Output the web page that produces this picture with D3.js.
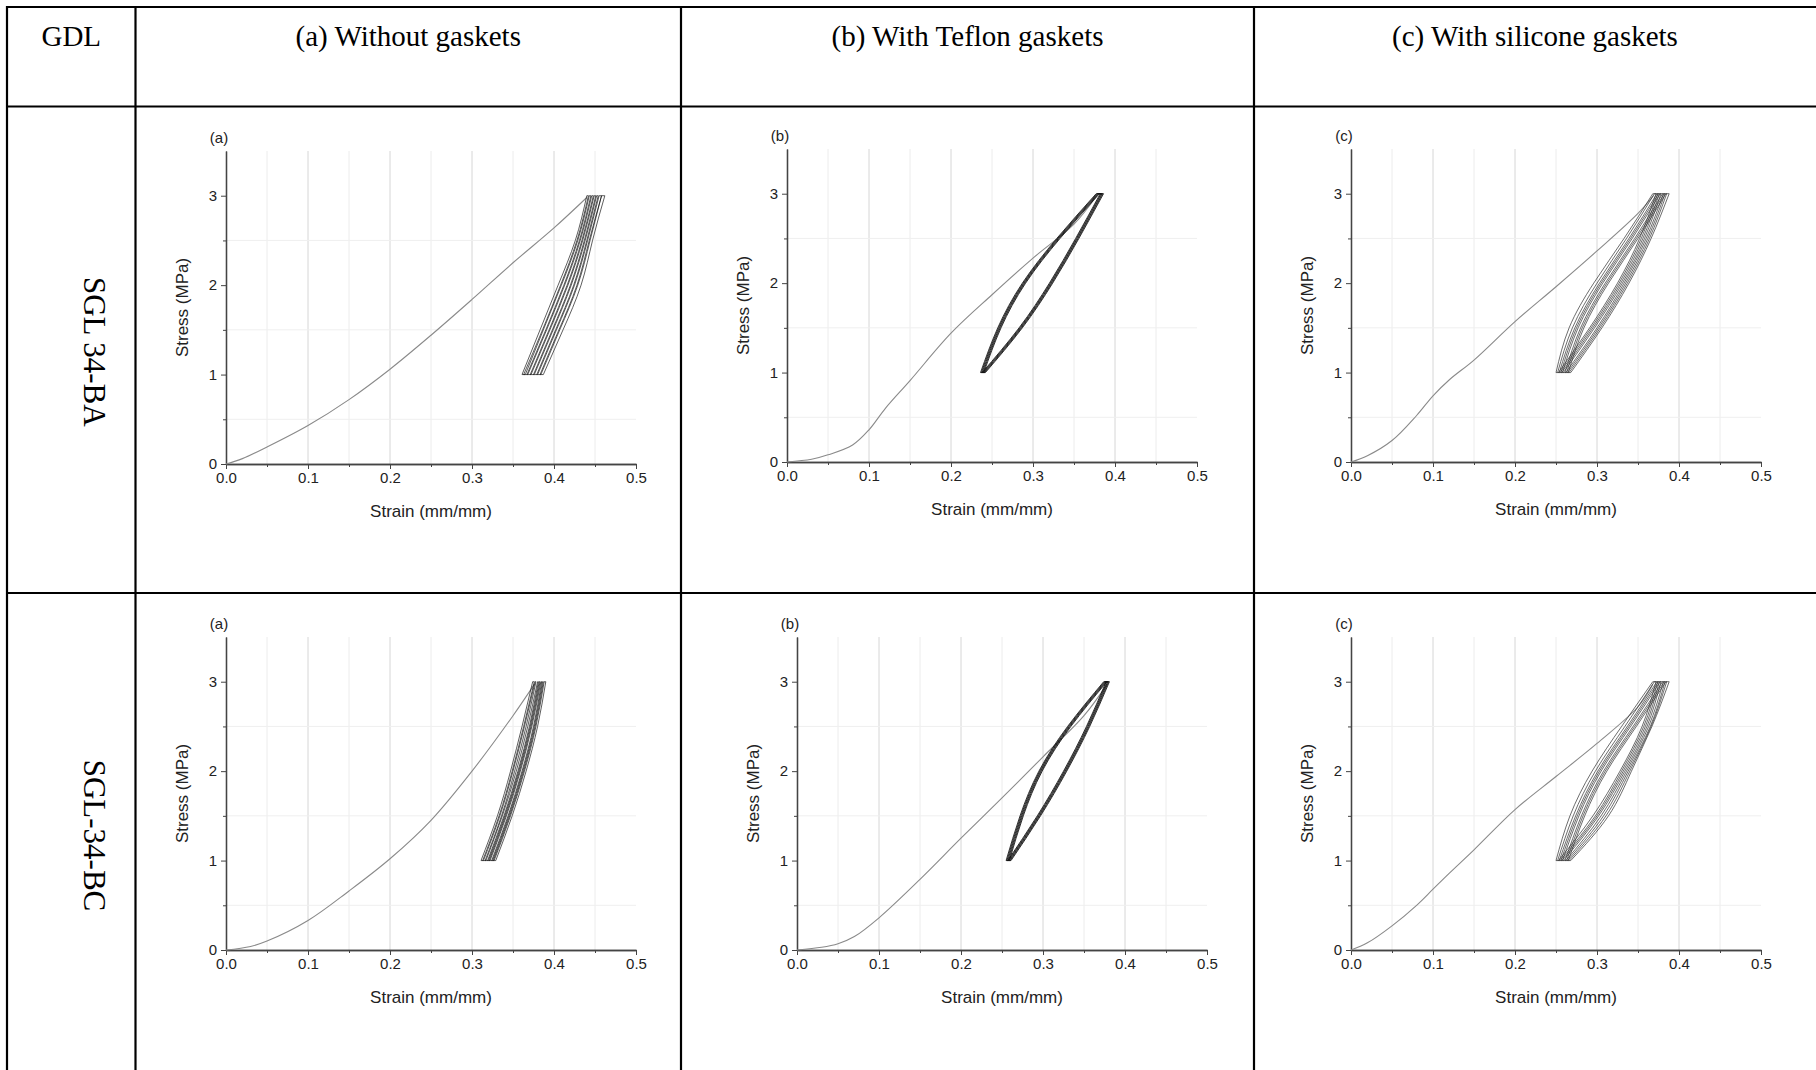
<!DOCTYPE html>
<html>
<head>
<meta charset="utf-8">
<script src="https://cdn.jsdelivr.net/npm/d3@7"></script>
<style>
  body { margin: 0; background: #fff; }
</style>
</head>
<body>
<script>
// table text
var headers = ["GDL", "(a) Without gaskets", "(b) With Teflon gaskets", "(c) With silicone gaskets"];
var rowNames = ["SGL 34-BA", "SGL-34-BC"];
var panelTags = ["(a)", "(b)", "(c)"];

// axis ticks
var xTicks = [0, 0.1, 0.2, 0.3, 0.4, 0.5];
var yTicks = [0, 1, 2, 3];
var xMinor = [0.05, 0.15, 0.25, 0.35, 0.45];
var yMinor = [0.5, 1.5, 2.5];

// stress levels (MPa) at which each cycle branch is read
var stressLevels = [1, 1.5, 2, 2.5, 3];

// ---- SGL 34-BA ----
// first loading curve [strain, stress]
var baNoneInitial = [[0, 0], [0.02, 0.06], [0.05, 0.19], [0.1, 0.43], [0.15, 0.72], [0.2, 1.06], [0.25, 1.44], [0.3, 1.84], [0.35, 2.25], [0.4, 2.64], [0.44, 2.98]];
// strain of each cycle at the stress levels
var baNoneLoading = [
  [0.361, 0.383, 0.405, 0.426, 0.440],
  [0.365, 0.387, 0.409, 0.429, 0.443],
  [0.368, 0.391, 0.413, 0.432, 0.446],
  [0.372, 0.395, 0.417, 0.435, 0.449],
  [0.376, 0.399, 0.421, 0.438, 0.452],
  [0.380, 0.403, 0.425, 0.441, 0.455],
  [0.384, 0.407, 0.429, 0.444, 0.458]];
var baNoneUnloading = [
  [0.363, 0.386, 0.408, 0.428, 0.442],
  [0.367, 0.390, 0.412, 0.431, 0.445],
  [0.371, 0.394, 0.416, 0.434, 0.448],
  [0.375, 0.398, 0.420, 0.437, 0.451],
  [0.379, 0.402, 0.424, 0.440, 0.454],
  [0.383, 0.406, 0.428, 0.443, 0.458],
  [0.387, 0.411, 0.433, 0.447, 0.462]];

var baTeflonInitial = [[0, 0], [0.03, 0.03], [0.05, 0.08], [0.08, 0.19], [0.1, 0.36], [0.12, 0.6], [0.15, 0.91], [0.2, 1.44], [0.25, 1.87], [0.3, 2.28], [0.35, 2.66], [0.378, 2.98]];
var baTeflonLoading = [
  [0.236, 0.257, 0.287, 0.329, 0.377],
  [0.237, 0.258, 0.288, 0.330, 0.378],
  [0.238, 0.259, 0.289, 0.331, 0.379],
  [0.239, 0.260, 0.290, 0.332, 0.380],
  [0.240, 0.261, 0.291, 0.333, 0.381]];
var baTeflonUnloading = [
  [0.238, 0.283, 0.320, 0.352, 0.382],
  [0.239, 0.284, 0.321, 0.353, 0.383],
  [0.240, 0.285, 0.322, 0.354, 0.384],
  [0.241, 0.286, 0.323, 0.355, 0.385],
  [0.242, 0.287, 0.324, 0.356, 0.386]];

var baSiliconeInitial = [[0, 0], [0.02, 0.07], [0.05, 0.24], [0.08, 0.52], [0.1, 0.74], [0.12, 0.92], [0.15, 1.14], [0.2, 1.57], [0.25, 1.96], [0.3, 2.36], [0.35, 2.78], [0.369, 2.98]];
var baSiliconeLoading = [
  [0.250, 0.266, 0.296, 0.333, 0.368],
  [0.252, 0.270, 0.300, 0.336, 0.370],
  [0.254, 0.273, 0.303, 0.339, 0.373],
  [0.256, 0.275, 0.305, 0.341, 0.375],
  [0.258, 0.277, 0.307, 0.343, 0.377],
  [0.261, 0.280, 0.310, 0.346, 0.380],
  [0.263, 0.282, 0.312, 0.348, 0.382],
  [0.265, 0.284, 0.314, 0.350, 0.384]];
var baSiliconeUnloading = [
  [0.253, 0.291, 0.325, 0.352, 0.372],
  [0.255, 0.293, 0.327, 0.354, 0.374],
  [0.257, 0.295, 0.329, 0.356, 0.376],
  [0.259, 0.297, 0.331, 0.358, 0.378],
  [0.262, 0.300, 0.333, 0.360, 0.381],
  [0.264, 0.302, 0.335, 0.362, 0.383],
  [0.266, 0.304, 0.337, 0.364, 0.385],
  [0.268, 0.306, 0.339, 0.366, 0.388]];

// ---- SGL-34-BC ----
var bcNoneInitial = [[0, 0], [0.03, 0.04], [0.05, 0.1], [0.1, 0.33], [0.15, 0.66], [0.2, 1.02], [0.25, 1.45], [0.3, 2.0], [0.35, 2.62], [0.376, 2.97]];
var bcNoneLoading = [
  [0.311, 0.331, 0.347, 0.361, 0.374],
  [0.314, 0.334, 0.350, 0.364, 0.377],
  [0.317, 0.337, 0.354, 0.368, 0.380],
  [0.320, 0.340, 0.357, 0.371, 0.382],
  [0.322, 0.342, 0.359, 0.373, 0.384],
  [0.325, 0.345, 0.362, 0.376, 0.386],
  [0.327, 0.347, 0.364, 0.378, 0.388]];
var bcNoneUnloading = [
  [0.313, 0.333, 0.349, 0.363, 0.376],
  [0.316, 0.336, 0.352, 0.366, 0.378],
  [0.319, 0.339, 0.356, 0.370, 0.381],
  [0.321, 0.341, 0.358, 0.372, 0.383],
  [0.324, 0.344, 0.361, 0.375, 0.385],
  [0.326, 0.346, 0.363, 0.377, 0.387],
  [0.329, 0.349, 0.366, 0.380, 0.390]];

var bcTeflonInitial = [[0, 0], [0.03, 0.03], [0.05, 0.07], [0.07, 0.15], [0.1, 0.36], [0.15, 0.79], [0.2, 1.25], [0.25, 1.7], [0.3, 2.16], [0.35, 2.62], [0.378, 2.97]];
var bcTeflonLoading = [
  [0.255, 0.272, 0.295, 0.330, 0.374],
  [0.256, 0.273, 0.296, 0.331, 0.375],
  [0.257, 0.274, 0.297, 0.332, 0.376],
  [0.258, 0.275, 0.298, 0.333, 0.377],
  [0.259, 0.276, 0.299, 0.334, 0.378]];
var bcTeflonUnloading = [
  [0.257, 0.293, 0.325, 0.353, 0.377],
  [0.258, 0.294, 0.326, 0.354, 0.378],
  [0.259, 0.295, 0.327, 0.355, 0.379],
  [0.260, 0.296, 0.328, 0.356, 0.380],
  [0.261, 0.297, 0.329, 0.357, 0.381]];

var bcSiliconeInitial = [[0, 0], [0.02, 0.08], [0.05, 0.27], [0.08, 0.5], [0.1, 0.68], [0.12, 0.86], [0.15, 1.12], [0.2, 1.57], [0.25, 1.94], [0.3, 2.31], [0.35, 2.72], [0.368, 2.97]];
var bcSiliconeLoading = [
  [0.250, 0.267, 0.294, 0.330, 0.368],
  [0.252, 0.271, 0.298, 0.334, 0.370],
  [0.254, 0.274, 0.301, 0.337, 0.373],
  [0.256, 0.276, 0.303, 0.339, 0.375],
  [0.258, 0.278, 0.305, 0.341, 0.377],
  [0.261, 0.281, 0.308, 0.344, 0.380],
  [0.263, 0.283, 0.310, 0.346, 0.382],
  [0.265, 0.285, 0.312, 0.348, 0.384]];
var bcSiliconeUnloading = [
  [0.253, 0.295, 0.328, 0.355, 0.372],
  [0.255, 0.298, 0.330, 0.357, 0.374],
  [0.257, 0.300, 0.332, 0.359, 0.376],
  [0.259, 0.302, 0.334, 0.361, 0.378],
  [0.262, 0.305, 0.336, 0.363, 0.381],
  [0.264, 0.308, 0.338, 0.365, 0.383],
  [0.266, 0.311, 0.340, 0.366, 0.385],
  [0.268, 0.314, 0.342, 0.367, 0.388]];

var panels = [
  [{ initial: baNoneInitial, loading: baNoneLoading, unloading: baNoneUnloading },
   { initial: baTeflonInitial, loading: baTeflonLoading, unloading: baTeflonUnloading },
   { initial: baSiliconeInitial, loading: baSiliconeLoading, unloading: baSiliconeUnloading }],
  [{ initial: bcNoneInitial, loading: bcNoneLoading, unloading: bcNoneUnloading },
   { initial: bcTeflonInitial, loading: bcTeflonLoading, unloading: bcTeflonUnloading },
   { initial: bcSiliconeInitial, loading: bcSiliconeLoading, unloading: bcSiliconeUnloading }]
];

// layout of the table and the plots (pixels)
var W = 1816, H = 1070;
var colX = [7, 135.5, 681, 1254];
var rowY = [7, 106.5, 593];
var plotLeft = [[226, 787, 1351], [226, 797, 1351]];
var plotBottom = [[464, 462, 462], [950, 950, 950]];
var plotW = 410, plotH = 313;
var loopColor = ["#111", "#111", "#333"];
var loopWidth = [0.8, 1.0, 0.85];
var sans = "'Liberation Sans', Arial, sans-serif";

var svg = d3.select("body").append("svg")
    .attr("width", W)
    .attr("height", H);

// table lines
var grid = svg.append("g").attr("stroke", "#000").attr("stroke-width", 2.2);
colX.forEach(function (cx) {
  grid.append("line").attr("x1", cx).attr("x2", cx).attr("y1", rowY[0] - 1).attr("y2", H);
});
rowY.forEach(function (ry) {
  grid.append("line").attr("x1", colX[0] - 1).attr("x2", W).attr("y1", ry).attr("y2", ry);
});

// header texts
headers.forEach(function (h, i) {
  var left = colX[i], right = i < colX.length - 1 ? colX[i + 1] : W;
  svg.append("text")
      .attr("x", (left + right) / 2)
      .attr("y", 46)
      .attr("text-anchor", "middle")
      .style("font-family", "'Liberation Serif', 'Times New Roman', serif")
      .style("font-size", "29px")
      .text(h);
});

// row names, rotated
rowNames.forEach(function (name, r) {
  var cy = (rowY[r + 1] + (r + 2 < rowY.length ? rowY[r + 2] : H)) / 2 + (r === 1 ? 4 : 2);
  svg.append("text")
      .attr("transform", "translate(" + 84 + "," + cy + ") rotate(90)")
      .attr("text-anchor", "middle")
      .style("font-family", "'Liberation Serif', 'Times New Roman', serif")
      .style("font-size", "31px")
      .text(name);
});

panels.forEach(function (row, r) {
  row.forEach(function (p, c) {
    var left = plotLeft[r][c], bottom = plotBottom[r][c];
    var x = d3.scaleLinear().domain([0, 0.5]).range([left, left + plotW]);
    var y = d3.scaleLinear().domain([0, 3.5]).range([bottom, bottom - plotH]);
    var g = svg.append("g");

    // grid lines
    g.selectAll(".vminor").data(xMinor).enter().append("line")
        .attr("x1", function (d) { return x(d); }).attr("x2", function (d) { return x(d); })
        .attr("y1", y(0)).attr("y2", y(3.5))
        .attr("stroke", "#ececec").attr("stroke-width", 1);
    g.selectAll(".vmajor").data(xTicks.slice(1, -1)).enter().append("line")
        .attr("x1", function (d) { return x(d); }).attr("x2", function (d) { return x(d); })
        .attr("y1", y(0)).attr("y2", y(3.5))
        .attr("stroke", "#d6d6d6").attr("stroke-width", 1);
    g.selectAll(".hminor").data(yMinor).enter().append("line")
        .attr("x1", x(0)).attr("x2", x(0.5))
        .attr("y1", function (d) { return y(d); }).attr("y2", function (d) { return y(d); })
        .attr("stroke", "#efefef").attr("stroke-width", 1);

    // axes
    g.append("g").attr("transform", "translate(0," + y(0) + ")")
        .call(d3.axisBottom(x).tickValues(xMinor).tickSize(3).tickSizeOuter(0).tickFormat(""));
    g.append("g").attr("transform", "translate(0," + y(0) + ")")
        .call(d3.axisBottom(x).tickValues(xTicks).tickSize(5).tickSizeOuter(0).tickPadding(3).tickFormat(d3.format(".1f")));
    g.append("g").attr("transform", "translate(" + x(0) + ",0)")
        .call(d3.axisLeft(y).tickValues(yMinor).tickSize(3).tickSizeOuter(0).tickFormat(""));
    g.append("g").attr("transform", "translate(" + x(0) + ",0)")
        .call(d3.axisLeft(y).tickValues(yTicks).tickSize(5).tickSizeOuter(0).tickPadding(4).tickFormat(d3.format("d")));
    g.selectAll(".domain").attr("stroke", "#444").attr("stroke-width", 1.3);
    g.selectAll(".tick line").attr("stroke", "#444");
    g.selectAll(".tick text")
        .attr("fill", "#222")
        .style("font-family", sans)
        .style("font-size", "15px");

    // titles
    g.append("text")
        .attr("x", x(0) - 7).attr("y", y(3.5) - 8)
        .attr("text-anchor", "middle")
        .style("font-family", sans).style("font-size", "15px").attr("fill", "#222")
        .text(panelTags[c]);
    g.append("text")
        .attr("x", x(0.25)).attr("y", y(0) + 53)
        .attr("text-anchor", "middle")
        .style("font-family", sans).style("font-size", "17px").attr("fill", "#222")
        .text("Strain (mm/mm)");
    g.append("text")
        .attr("transform", "translate(" + (x(0) - 38) + "," + y(1.75) + ") rotate(-90)")
        .attr("text-anchor", "middle")
        .style("font-family", sans).style("font-size", "17px").attr("fill", "#222")
        .text("Stress (MPa)");

    // data
    var curve = d3.line()
        .x(function (d) { return x(d[0]); })
        .y(function (d) { return y(d[1]); })
        .curve(d3.curveCatmullRom);
    var smooth = d3.line()
        .x(function (d) { return x(d[0]); })
        .y(function (d) { return y(d[1]); })
        .curve(d3.curveNatural);
    var straight = d3.line()
        .x(function (d) { return x(d[0]); })
        .y(function (d) { return y(d[1]); });

    g.append("path").attr("d", curve(p.initial))
        .attr("fill", "none").attr("stroke", "#8a8a8a").attr("stroke-width", 1.1);

    var branch = function (strains) {
      return strains.map(function (s, j) { return [s, stressLevels[j]]; });
    };
    var top = stressLevels.length - 1;
    var loops = g.append("g").attr("fill", "none")
        .attr("stroke", loopColor[c]).attr("stroke-width", loopWidth[c]).attr("stroke-opacity", 0.85);
    p.loading.forEach(function (cyc, k) {
      loops.append("path").attr("d", smooth(branch(cyc)));
      loops.append("path").attr("d", smooth(branch(p.unloading[k])));
      loops.append("path").attr("d", straight([[cyc[top], stressLevels[top]], [p.unloading[k][top], stressLevels[top]]]));
      var next = p.loading[Math.min(k + 1, p.loading.length - 1)];
      loops.append("path").attr("d", straight([[p.unloading[k][0], stressLevels[0]], [next[0], stressLevels[0]], [cyc[0], stressLevels[0]]]));
    });
  });
});
</script>
</body>
</html>
